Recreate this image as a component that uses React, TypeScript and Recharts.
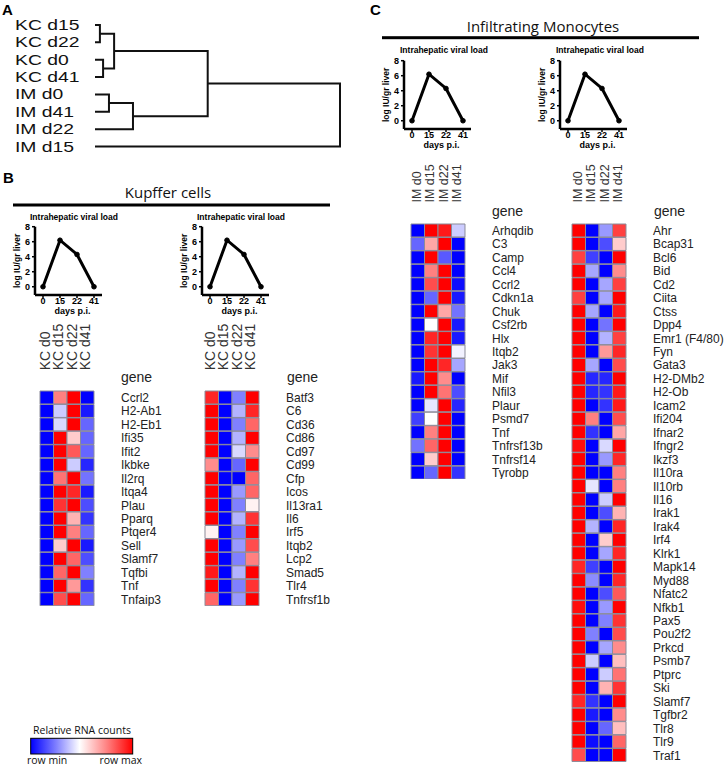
import React from 'react';
import { BarChart, Bar, Cell, XAxis, YAxis, LineChart, Line, ScatterChart, Scatter } from 'recharts';

const FONT = 'Arial, "Liberation Sans", sans-serif';
const TITLE_FONT = '"Open Sans", sans-serif';

// Panel A: hierarchical clustering of the samples
const leaves = ['KC d15', 'KC d22', 'KC d0', 'KC d41', 'IM d0', 'IM d41', 'IM d22', 'IM d15'];
// [child, child, height]; ids >= 8 point to earlier merges
const merges = [
  [0, 1, 0.02],
  [2, 3, 0.033],
  [8, 9, 0.078],
  [4, 5, 0.057],
  [11, 6, 0.155],
  [10, 12, 0.46],
  [13, 7, 1.0],
];

// viral load curve
const days = ['0', '15', '22', '41'];
const viralLoad = [0, 6.2, 4.3, 0];

const kcCols = ['KC d0', 'KC d15', 'KC d22', 'KC d41'];
const imCols = ['IM d0', 'IM d15', 'IM d22', 'IM d41'];

// values: -1 = row min (blue), 1 = row max (red)
const kcGenesA = ['Ccrl2', 'H2-Ab1', 'H2-Eb1', 'Ifi35', 'Ifit2', 'Ikbke', 'Il2rq', 'Itqa4', 'Plau', 'Pparq', 'Ptqer4', 'Sell', 'Slamf7', 'Tqfbi', 'Tnf', 'Tnfaip3'];
const kcValsA = [
  [-1, 0.5, 1, -1],
  [-1, -0.2, 1, -0.9],
  [-1, -0.15, 1, -0.6],
  [-1, 1, 0.2, -0.6],
  [-1, 1, 0.65, -0.6],
  [-1, 1, -0.2, -0.85],
  [-1, 0.55, 1, -0.55],
  [-1, 1, 0.85, -0.9],
  [-1, 0.8, 1, -0.7],
  [-1, 1, 0.3, -0.8],
  [-1, 1, 0.5, -0.6],
  [-1, 0.2, 1, -0.9],
  [-1, 1, 0.6, -0.7],
  [-1, 0.6, 1, -0.5],
  [-1, 1, 0.4, -0.8],
  [-1, 0.7, 1, -0.6],
];

const kcGenesB = ['Batf3', 'C6', 'Cd36', 'Cd86', 'Cd97', 'Cd99', 'Cfp', 'Icos', 'Il13ra1', 'Il6', 'Irf5', 'Itqb2', 'Lcp2', 'Smad5', 'Tlr4', 'Tnfrsf1b'];
const kcValsB = [
  [0.85, -1, -0.5, 1],
  [1, -1, -0.3, 0.85],
  [1, -1, -0.5, 0.6],
  [1, -1, -0.3, 1],
  [1, -1, -0.15, 0.45],
  [0.45, -1, -0.6, 1],
  [1, -1, -1, 0.6],
  [1, -1, -0.4, 0.6],
  [1, -1, -0.5, 0.05],
  [1, -1, -0.3, 0.8],
  [0.05, -1, -0.5, 1],
  [1, -1, -0.4, 0.7],
  [1, -1, -0.5, 0.5],
  [0.9, -1, -0.3, 1],
  [1, -1, -0.5, 0.8],
  [0.6, -1, -0.4, 1],
];

const imGenesA = ['Arhqdib', 'C3', 'Camp', 'Ccl4', 'Ccrl2', 'Cdkn1a', 'Chuk', 'Csf2rb', 'Hlx', 'Itqb2', 'Jak3', 'Mif', 'Nfil3', 'Plaur', 'Psmd7', 'Tnf', 'Tnfrsf13b', 'Tnfrsf14', 'Tyrobp'];
const imValsA = [
  [-1, 1, 0.9, -0.2],
  [-0.6, 0.35, 1, -1],
  [-1, 1, -0.65, -1],
  [-1, 0.5, 1, -1],
  [-1, 0.7, 1, -0.95],
  [-1, -0.6, 1, -0.9],
  [-1, 1, 0.35, -0.55],
  [-1, 0, 1, -0.9],
  [-1, 0.85, 1, -0.9],
  [-1, 0.8, 1, -0.05],
  [-1, 1, 0.85, -0.35],
  [-0.9, 1, 0.45, -1],
  [-1, 1, 0.55, -0.7],
  [-1, -0.1, 1, -0.85],
  [-0.75, 0, 1, -1],
  [-1, 0.5, 1, -1],
  [-0.55, 0.6, 1, -1],
  [-1, 0.2, 1, -1],
  [-1, -0.6, 1, -0.8],
];

const imGenesB = ['Ahr', 'Bcap31', 'Bcl6', 'Bid', 'Cd2', 'Ciita', 'Ctss', 'Dpp4', 'Emr1 (F4/80)', 'Fyn', 'Gata3', 'H2-DMb2', 'H2-Ob', 'Icam2', 'Ifi204', 'Ifnar2', 'Ifngr2', 'Ikzf3', 'Il10ra', 'Il10rb', 'Il16', 'Irak1', 'Irak4', 'Irf4', 'Klrk1', 'Mapk14', 'Myd88', 'Nfatc2', 'Nfkb1', 'Pax5', 'Pou2f2', 'Prkcd', 'Psmb7', 'Ptprc', 'Ski', 'Slamf7', 'Tgfbr2', 'Tlr8', 'Tlr9', 'Traf1'];
const imValsB = [
  [1, -1, -0.4, 0.75],
  [1, -1, -0.7, 0.2],
  [0.75, -0.75, -1, 1],
  [1, -0.35, -1, 0.45],
  [1, -1, -0.35, 0.75],
  [0.75, -1, -0.35, 1],
  [1, -0.35, -1, 0.9],
  [1, -1, -0.55, 1],
  [1, -1, -0.3, 0.75],
  [1, -1, 0.4, 0.85],
  [1, -0.35, -1, 0.7],
  [1, -0.85, -0.85, 1],
  [1, -0.85, -0.8, 0.9],
  [1, -1, -0.8, 0.9],
  [1, 0.5, -1, 0.7],
  [1, -0.8, -1, 0.35],
  [0.95, -1, -0.15, 1],
  [1, -1, -0.4, 0.85],
  [1, -1, -1, 0.5],
  [1, -0.1, -1, 0.5],
  [1, -1, -0.2, 1],
  [1, -1, -0.7, 0.3],
  [1, -0.3, -1, 0.85],
  [1, -1, 0.2, 1],
  [1, -1, -0.35, 0.85],
  [0.85, -0.75, -1, 1],
  [1, -0.45, -1, 0.85],
  [1, -1, -0.7, 0.65],
  [0.95, -1, -0.4, 1],
  [1, -1, -0.5, 0.8],
  [1, -0.5, -1, 0.7],
  [1, -1, -0.35, 0.45],
  [1, -0.2, -1, 0.25],
  [1, -1, -0.2, 0.55],
  [1, -1, 0.3, 0.8],
  [0.85, -0.8, -1, 1],
  [1, -0.9, -1, 0.45],
  [1, -1, -0.6, 0.25],
  [1, -0.95, -1, 0.6],
  [0.7, -1, -1, 1],
];

const heatColor = (v: number) => {
  const t = Math.min(1, Math.abs(v));
  const c = Math.round(255 * (1 - t));
  return v < 0 ? `rgb(${c},${c},255)` : `rgb(255,${c},${c})`;
};

// dendrogram segments built from the merge table
const nodePos: number[] = leaves.map((_, i) => i);
const nodeH: number[] = leaves.map(() => 0);
const dendroSegs = merges.map(([a, b, h]) => {
  const seg = [
    { h: nodeH[a], pos: nodePos[a] },
    { h, pos: nodePos[a] },
    { h, pos: nodePos[b] },
    { h: nodeH[b], pos: nodePos[b] },
  ];
  nodePos.push((nodePos[a] + nodePos[b]) / 2);
  nodeH.push(h);
  return seg;
});

const Dendrogram = () => (
  <div style={{ position: 'absolute', left: 0, top: 0 }}>
    <ScatterChart width={350} height={160} margin={{ top: 25, right: 10, bottom: 13.5, left: 0 }}>
      <XAxis type="number" dataKey="h" domain={[0, 1]} hide />
      <YAxis
        type="number"
        dataKey="pos"
        domain={[0, 7]}
        ticks={leaves.map((_, i) => i)}
        reversed
        width={95}
        axisLine={false}
        tickLine={false}
        interval={0}
        tick={(p: any) => (
          <text
            key={p.index}
            transform={`translate(15,${p.y}) scale(1.38,1)`}
            dy="0.36em"
            fontSize={14}
            fontFamily={FONT}
            fill="#111"
          >
            {leaves[p.payload.value]}
          </text>
        )}
      />
      {dendroSegs.map((seg, i) => (
        <Scatter
          key={i}
          data={seg}
          line={{ stroke: '#111', strokeWidth: 2 }}
          shape={() => <g />}
          isAnimationActive={false}
        />
      ))}
    </ScatterChart>
  </div>
);

const LoadChart = ({ left, top }: { left: number; top: number }) => {
  const data = days.map((d, i) => ({ day: d, load: viralLoad[i] }));
  const txt = { fontSize: 9, fontWeight: 700, fill: '#000', fontFamily: FONT };
  return (
    <div style={{ position: 'absolute', left, top }}>
      <LineChart width={110} height={120} data={data} margin={{ top: 21.7, right: 8, bottom: 0, left: 0 }}>
        <XAxis
          dataKey="day"
          interval={0}
          padding={{ left: 8, right: 8 }}
          axisLine={{ stroke: '#000', strokeWidth: 2.5 }}
          tickLine={{ stroke: '#000', strokeWidth: 1.5 }}
          tickSize={3}
          tickMargin={0}
          tick={txt}
          height={30}
          label={{ value: 'days p.i.', position: 'insideBottom', offset: 11, dx: 4, ...txt }}
        />
        <YAxis
          domain={[-1.1, 8]}
          ticks={[0, 2, 4, 6, 8]}
          width={35}
          axisLine={{ stroke: '#000', strokeWidth: 2.5 }}
          tickLine={{ stroke: '#000', strokeWidth: 1.5 }}
          tickSize={3}
          tickMargin={2}
          tick={txt}
          label={{ value: 'log IU/gr liver', angle: -90, position: 'insideLeft', offset: 17, ...txt, fontSize: 8.5, style: { textAnchor: 'middle' } }}
        />
        <Line
          type="linear"
          dataKey="load"
          stroke="#000"
          strokeWidth={3}
          dot={{ r: 2.3, fill: '#000', stroke: '#000', strokeWidth: 1 }}
          isAnimationActive={false}
        />
      </LineChart>
    </div>
  );
};

type HeatProps = {
  left: number;
  top: number;
  cols: string[];
  genes: string[];
  vals: number[][];
  colFont: number;
  gap: number;
  labelWidth: number;
};

const ROW_H = 13.45;
const AXIS_H = 85;
const PAD_L = 14; // room for the rotated column labels

const Heatmap = ({ left, top, cols, genes, vals, colFont, gap, labelWidth }: HeatProps) => {
  const data = genes.map((g) => {
    const row: any = { gene: g };
    cols.forEach((_, j) => (row['c' + j] = 1));
    return row;
  });
  return (
    <div style={{ position: 'absolute', left: left - PAD_L, top: top - AXIS_H }}>
      <BarChart
        layout="vertical"
        width={PAD_L + 54 + labelWidth}
        height={AXIS_H + genes.length * ROW_H}
        data={data}
        margin={{ top: 0, right: 0, bottom: 0, left: PAD_L }}
        barCategoryGap={0}
        barGap={0}
      >
        <XAxis
          type="number"
          domain={[0, cols.length]}
          orientation="top"
          ticks={cols.map((_, j) => j + 0.5)}
          axisLine={false}
          tickLine={false}
          tickSize={0}
          tickMargin={0}
          height={AXIS_H}
          interval={0}
          tick={(p: any) => (
            <text
              key={p.index}
              transform={`translate(${p.x + 3},${p.y - gap}) rotate(-90)`}
              fontSize={colFont}
              fontFamily={FONT}
              fill="#333"
            >
              {cols[Math.floor(p.payload.value)]}
            </text>
          )}
        />
        <YAxis
          type="category"
          dataKey="gene"
          orientation="right"
          width={labelWidth}
          axisLine={false}
          tickLine={false}
          tickSize={0}
          tickMargin={27}
          interval={0}
          tick={{ fontSize: 12, fill: '#222', fontFamily: FONT }}
        />
        {cols.map((_, j) => (
          <Bar key={j} dataKey={'c' + j} stackId="s" isAnimationActive={false}>
            {vals.map((r, i) => (
              <Cell key={i} fill={heatColor(r[j])} stroke="#8c8c9a" strokeWidth={1} />
            ))}
          </Bar>
        ))}
      </BarChart>
    </div>
  );
};

const Overlay = () => {
  const bold = { fontFamily: FONT, fontWeight: 700 } as const;
  const chartTitle = { fontFamily: FONT, fontWeight: 700, fontSize: 8.5, fill: '#000' } as const;
  const gene = { fontFamily: FONT, fontSize: 14, fill: '#222' } as const;
  return (
    <svg width={724} height={766} style={{ position: 'absolute', left: 0, top: 0, pointerEvents: 'none' }}>
      <defs>
        <linearGradient id="rna" x1="0" x2="1" y1="0" y2="0">
          <stop offset="0" stopColor={heatColor(-1)} />
          <stop offset="0.25" stopColor={heatColor(-0.5)} />
          <stop offset="0.48" stopColor="#fff" />
          <stop offset="0.75" stopColor={heatColor(0.5)} />
          <stop offset="1" stopColor={heatColor(1)} />
        </linearGradient>
      </defs>
      <text x={2} y={15} fontSize={15} {...bold}>A</text>
      <text x={3} y={183} fontSize={15} {...bold}>B</text>
      <text x={370} y={15} fontSize={15} {...bold}>C</text>

      <text x={168} y={198} textAnchor="middle" fontFamily={TITLE_FONT} fontSize={15} fill="#111">Kupffer cells</text>
      <rect x={13} y={203.5} width={317} height={3} fill="#000" />
      <text x={543} y={32} textAnchor="middle" fontFamily={TITLE_FONT} fontSize={15} fill="#111">Infiltrating Monocytes</text>
      <rect x={382} y={36.2} width={317} height={3} fill="#000" />

      <text x={30} y={219.5} {...chartTitle}>Intrahepatic viral load</text>
      <text x={197} y={219.5} {...chartTitle}>Intrahepatic viral load</text>
      <text x={400} y={53} {...chartTitle}>Intrahepatic viral load</text>
      <text x={556} y={53} {...chartTitle}>Intrahepatic viral load</text>

      <text x={121} y={382} {...gene}>gene</text>
      <text x={287} y={382} {...gene}>gene</text>
      <text x={492} y={215.5} {...gene}>gene</text>
      <text x={654} y={215.5} {...gene}>gene</text>

      <text x={82} y={734} textAnchor="middle" fontFamily={TITLE_FONT} fontSize={10.5} fill="#111">Relative RNA counts</text>
      <rect x={30.7} y={738.3} width={102} height={15.7} fill="url(#rna)" stroke="#000" strokeWidth={1} />
      <text x={27} y={764} fontFamily={TITLE_FONT} fontSize={10.5} fill="#111">row min</text>
      <text x={142} y={764} textAnchor="end" fontFamily={TITLE_FONT} fontSize={10.5} fill="#111">row max</text>
    </svg>
  );
};

export default function App() {
  return (
    <div style={{ position: 'absolute', left: 0, top: 0, width: 724, height: 766, background: '#fff', overflow: 'hidden' }}>
      <Dendrogram />
      <LoadChart left={0} top={205} />
      <LoadChart left={167} top={205} />
      <LoadChart left={369} top={38.7} />
      <LoadChart left={525} top={38.7} />
      <Heatmap left={40} top={390.7} cols={kcCols} genes={kcGenesA} vals={kcValsA} colFont={14} gap={20.7} labelWidth={90} />
      <Heatmap left={205} top={390.7} cols={kcCols} genes={kcGenesB} vals={kcValsB} colFont={14} gap={20.7} labelWidth={90} />
      <Heatmap left={411} top={223.5} cols={imCols} genes={imGenesA} vals={imValsA} colFont={12.5} gap={21.5} labelWidth={100} />
      <Heatmap left={572} top={223.5} cols={imCols} genes={imGenesB} vals={imValsB} colFont={12.5} gap={21.5} labelWidth={100} />
      <Overlay />
    </div>
  );
}
